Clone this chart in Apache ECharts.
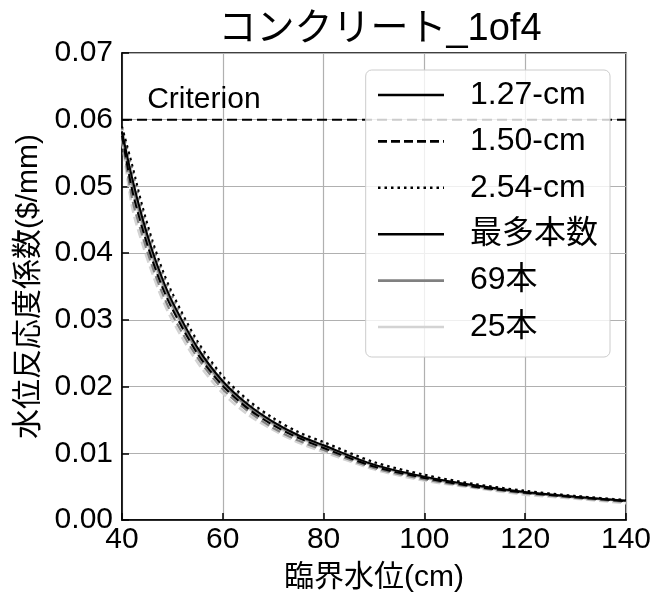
<!DOCTYPE html>
<html>
<head>
<meta charset="utf-8">
<script src="https://cdn.jsdelivr.net/npm/echarts@6/dist/echarts.min.js"></script>
<style>html,body{margin:0;padding:0;background:#fff}#c{width:654px;height:599px}</style>
</head>
<body>
<div id="c"></div>
<script>
const titleText = 'コンクリート_1of4';
const xName = '臨界水位(cm)';
const yName = '水位反応度係数($/mm)';
const criterion = 0.06;
const criterionLabel = 'Criterion';
const legendNames = ['1.27-cm', '1.50-cm', '2.54-cm', '最多本数', '69本', '25本'];
const xVals = [40, 42, 44, 46, 48, 50, 55, 60, 65, 70, 75, 80, 90, 100, 110, 120, 130, 140];

// 最多本数 (black)
const blackSolid  = [0.0582,0.0513,0.0454,0.0404,0.0362,0.0327,0.0258,0.0208,0.0173,0.0147,0.0127,0.0112,0.0083,0.0065,0.0052,0.0042,0.0035,0.0029];
const blackDashed = [0.0576,0.0495,0.0438,0.0390,0.0349,0.0316,0.0249,0.0201,0.0167,0.0142,0.0123,0.0108,0.0080,0.0063,0.0050,0.0041,0.0034,0.0028];
const blackDotted = [0.0590,0.0533,0.0472,0.0420,0.0376,0.0340,0.0268,0.0216,0.0180,0.0153,0.0132,0.0117,0.0087,0.0068,0.0054,0.0044,0.0036,0.0030];
// 69本 (gray)
const graySolid  = [0.0578,0.0505,0.0447,0.0398,0.0357,0.0322,0.0254,0.0205,0.0170,0.0145,0.0125,0.0110,0.0082,0.0064,0.0051,0.0041,0.0034,0.0029];
const grayDashed = [0.0573,0.0482,0.0427,0.0380,0.0340,0.0307,0.0243,0.0196,0.0163,0.0138,0.0119,0.0105,0.0078,0.0061,0.0049,0.0040,0.0033,0.0027];
const grayDotted = [0.0588,0.0526,0.0465,0.0414,0.0371,0.0335,0.0264,0.0213,0.0177,0.0151,0.0130,0.0115,0.0085,0.0067,0.0053,0.0043,0.0036,0.0030];
// 25本 (light gray)
const lightSolid  = [0.0575,0.0498,0.0440,0.0392,0.0351,0.0317,0.0250,0.0202,0.0168,0.0143,0.0123,0.0109,0.0081,0.0063,0.0050,0.0041,0.0034,0.0028];
const lightDashed = [0.0570,0.0469,0.0415,0.0370,0.0331,0.0299,0.0236,0.0190,0.0158,0.0135,0.0116,0.0102,0.0076,0.0059,0.0048,0.0038,0.0032,0.0025];
const lightDotted = [0.0586,0.0518,0.0459,0.0408,0.0366,0.0330,0.0261,0.0210,0.0175,0.0148,0.0128,0.0113,0.0084,0.0066,0.0052,0.0042,0.0035,0.0029];

const FONT = '"Liberation Sans", "Noto Sans CJK JP", sans-serif';
const C_BLACK = '#000000', C_GRAY = '#808080', C_LIGHT = '#d3d3d3';
const DASH = [9, 4], DOT = [2.5, 4];

function pairs(vals) { return xVals.map((x, i) => [x, vals[i]]); }
function curve(name, vals, color, type, width) {
  return { name: name, type: 'line', data: pairs(vals), showSymbol: false, symbol: 'none',
    smooth: 0.3, silent: true, animation: false,
    lineStyle: { color: color, width: width || 2.5, type: type } };
}
function proxy(name, color, type, width) {
  return { name: name, type: 'line', data: [], symbol: 'none', animation: false,
    itemStyle: { color: color }, lineStyle: { color: color, width: width, type: type } };
}

const series = [
  curve('c-ld', lightDashed, C_LIGHT, DASH, 2.5),
  curve('c-ls', lightSolid, C_LIGHT, 'solid', 2.5),
  curve('c-lo', lightDotted, C_LIGHT, DOT, 2.5),
  curve('c-gd', grayDashed, C_GRAY, DASH, 2.2),
  curve('c-gs', graySolid, C_GRAY, 'solid', 2.2),
  curve('c-go', grayDotted, C_GRAY, DOT, 2.2),
  curve('c-bd', blackDashed, C_BLACK, DASH, 2),
  curve('c-bs', blackSolid, C_BLACK, 'solid', 2),
  curve('c-bo', blackDotted, C_BLACK, DOT, 2),
  { name: 'criterion', type: 'line', data: [[40, criterion], [140, criterion]], symbol: 'none',
    silent: true, animation: false, lineStyle: { color: '#000', width: 2, type: [10, 5] } },
  { name: 'criterion-label', type: 'scatter', data: [[45, criterion]], symbol: 'circle', symbolSize: 1,
    silent: true, animation: false, itemStyle: { color: 'rgba(0,0,0,0)' },
    label: { show: true, formatter: criterionLabel, position: 'top', align: 'left', distance: 4,
      fontFamily: FONT, fontSize: 30, color: '#000', opacity: 1 } },
  proxy(legendNames[0], C_BLACK, 'solid', 2.5),
  proxy(legendNames[1], C_BLACK, DASH, 2.5),
  proxy(legendNames[2], C_BLACK, DOT, 2.5),
  proxy(legendNames[3], C_BLACK, 'solid', 3),
  proxy(legendNames[4], C_GRAY, 'solid', 3),
  proxy(legendNames[5], C_LIGHT, 'solid', 3)
];

const chart = echarts.init(document.getElementById('c'), null, { renderer: 'canvas' });
chart.setOption({
  backgroundColor: '#fff',
  animation: false,
  title: { text: titleText, left: 375, top: 6, textAlign: 'center',
    textStyle: { fontFamily: FONT, fontSize: 38, fontWeight: 'normal', color: '#000' } },
  grid: { left: 122, right: 28, top: 53, bottom: 79, show: true, borderColor: '#000', borderWidth: 1.5, backgroundColor: 'transparent' },
  legend: {
    data: legendNames, orient: 'vertical', right: 44, top: 70,
    itemWidth: 66, itemHeight: 18, itemGap: 14.4,
    padding: [9, 12, 14, 11],
    backgroundColor: 'rgba(255,255,255,0.8)', borderColor: '#cccccc', borderWidth: 1, borderRadius: 6,
    selectedMode: false,
    itemStyle: { opacity: 0 },
    lineStyle: { width: 2.6 },
    textStyle: { fontFamily: FONT, fontSize: 32, color: '#000', padding: [0, 0, 0, 21] }
  },
  xAxis: {
    type: 'value', min: 40, max: 140, interval: 20,
    name: xName, nameLocation: 'middle', nameGap: 43,
    nameTextStyle: { fontFamily: FONT, fontSize: 30, color: '#000' },
    axisLine: { show: true, lineStyle: { color: '#000', width: 1.5 } },
    axisTick: { show: true, inside: true, length: 7, lineStyle: { color: '#000', width: 1.5 } },
    axisLabel: { fontFamily: FONT, fontSize: 30, color: '#000', margin: 5 },
    splitLine: { show: true, lineStyle: { color: '#b0b0b0', width: 1.2 } }
  },
  yAxis: {
    type: 'value', min: 0, max: 0.07, interval: 0.01,
    name: yName, nameLocation: 'middle', nameGap: 77,
    nameTextStyle: { fontFamily: FONT, fontSize: 30, color: '#000' },
    axisLine: { show: true, lineStyle: { color: '#000', width: 1.5 } },
    axisTick: { show: true, inside: true, length: 7, lineStyle: { color: '#000', width: 1.5 } },
    axisLabel: { fontFamily: FONT, fontSize: 30, color: '#000', margin: 9, formatter: v => v.toFixed(2) },
    splitLine: { show: true, lineStyle: { color: '#b0b0b0', width: 1.2 } }
  },
  series: series
});
</script>
</body>
</html>
